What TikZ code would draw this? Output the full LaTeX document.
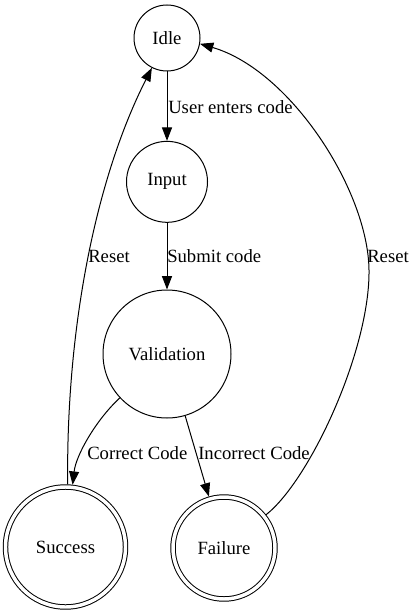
\documentclass[tikz,border=0pt]{standalone}
\usepackage{fontspec}
\setmainfont{Liberation Serif}
\usetikzlibrary{positioning, arrows.meta}
\tikzset{
  state/.style={draw, circle, line width=0.75pt, inner sep=0pt, font=\fontsize{14}{16}\selectfont},
  final/.style={state, double, double distance=2.6pt, outer sep=2pt},
  lbl/.style={anchor=west, inner sep=0pt, font=\fontsize{14}{16}\selectfont},
  flow/.style={-{Triangle[length=10pt, width=7.5pt]}, line width=0.75pt},
}

\begin{document}
\begin{tikzpicture}[x=0.75pt, y=-0.75pt]
  \useasboundingbox (0,0) rectangle (415,613);
  \node[state, minimum size=49.5pt] (idle) at (167,38) {Idle};
  \node[state, minimum size=60.75pt, below=52pt of idle] (input) {Input};
  \node[state, minimum size=96pt, below=50pt of input] (valid) {Validation};
  \node[final, minimum size=90pt] (success) at (65.5,547) {Success};
  \node[final, minimum size=76.5pt] (failure) at (224,548) {Failure};
  % transitions
  \draw[flow] (idle) -- (input);
  \draw[flow] (input) -- (valid);
  \draw[flow] (valid) .. controls (96,420) and (76,455) .. (success);
  \draw[flow] (valid) -- (failure);
  \draw[flow] (success.88) .. controls (66,330) and (95,180) .. (idle);
  \draw[flow] (failure) .. controls (310,480) and (370,350) .. (369,270)
    .. controls (368,190) and (290,70) .. (idle.-10);
  % labels
  \node[lbl] (l-enter) at (168,107) {User enters code};
  \node[lbl] (l-submit) at (167,256) {Submit code};
  \node[lbl] (l-reset1) at (88,256) {Reset};
  \node[lbl] (l-reset2) at (367,256) {Reset};
  \node[lbl] (l-correct) at (87,453) {Correct Code};
  \node[lbl] (l-wrong) at (198,453) {Incorrect Code};
\end{tikzpicture}
\end{document}
